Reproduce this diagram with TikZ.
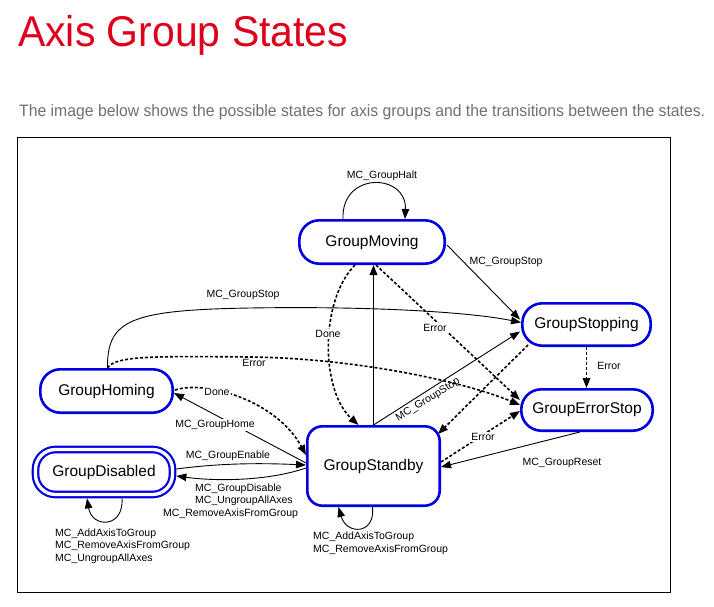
\documentclass[tikz,border=0pt]{standalone}
\usepackage{fontspec}
\setmainfont{Liberation Sans}
\usepackage{graphicx}
\usetikzlibrary{arrows.meta,calc}
\definecolor{titlered}{RGB}{222,0,26}
\definecolor{subgray}{RGB}{112,112,112}
\definecolor{stateblue}{RGB}{0,0,225}
\begin{document}
\begin{tikzpicture}[x=1pt,y=-1pt,
  state/.style={draw=stateblue,line width=2.6pt,rounded corners=20pt,inner sep=0pt,
    font=\fontsize{15.5}{18}\selectfont,fill=white},
  lbl/.style={font=\fontsize{10.5}{12.5}\selectfont,inner sep=1pt},
  wlbl/.style={lbl,fill=white},
  tr/.style={line width=0.9pt,-{Triangle[length=10pt,width=7.5pt]}},
  dtr/.style={line width=1.6pt,dash pattern=on 3pt off 2pt,-{Triangle[length=10pt,width=7.5pt]}},
  ttr/.style={line width=1.8pt,-{Triangle[length=10pt,width=7.5pt]}}
]
\useasboundingbox (0,0) rectangle (714,607);
\fill[white] (0,0) rectangle (714,607);

% heading
\node[anchor=base west,inner sep=0pt,text=titlered] (title) at (18,47)
  {\resizebox{330pt}{\height}{\fontsize{43}{46}\selectfont Axis Group States}};
\node[anchor=base west,inner sep=0pt,text=subgray] (sub) at (19,117)
  {\resizebox{686pt}{\height}{\fontsize{16.5}{19}\selectfont The image below shows the possible states for axis groups and the transitions between the states.}};

% frame
\draw[line width=1pt] (17,137) rectangle (670,592);

% states
\node[state,minimum width=145.4pt,minimum height=43.4pt] (moving) at (372,242) {GroupMoving};
\node[state,minimum width=128.4pt,minimum height=42.4pt] (stopping) at (586.5,324.5) {GroupStopping};
\node[state,minimum width=131.4pt,minimum height=41.4pt] (errstop) at (587,410) {GroupErrorStop};
\node[state,minimum width=132.4pt,minimum height=43.4pt] (homing) at (106.5,391) {GroupHoming};
\node[state,rounded corners=15pt,minimum width=132.4pt,minimum height=79.4pt] (standby) at (373.5,466) {GroupStandby};
\node[state,line width=2.2pt,double=white,double distance=3.3pt,outer sep=3.85pt,
  minimum width=137pt,minimum height=45pt] (disabled) at (104,472) {GroupDisabled};

% transitions
\draw[tr] ($(moving.north)+(-29,0)$) .. controls +(-2,-48) and +(2,-46) .. ($(moving.north)+(33,0)$);
\node[lbl] (lhalt) at (382,176) {MC\_GroupHalt};

\draw[tr] ($(moving.east)+(1,3)$) -- ($(stopping.west)+(-1,-5)$);
\node[lbl] (lstop1) at (506,262) {MC\_GroupStop};

\draw[tr] ($(homing.north)+(1,0)$) .. controls (107,320) and (130,310) .. (250,308)
  .. controls (370,306) and (470,312) .. ($(stopping.west)+(0,-2)$);
\node[lbl] (lstop2) at (243,295) {MC\_GroupStop};

\draw[dtr] ($(homing.north)+(1,0)$) .. controls (115,356) and (150,356) .. (250,357)
  .. controls (350,358) and (460,380) .. ($(errstop.west)+(0,-5)$);
\node[lbl] (lerr1) at (254,363) {Error};

\draw[dtr] ($(moving.south)+(-17,0)$) .. controls (320,300) and (320,390) .. ($(standby.north)+(-15,0)$);
\node[wlbl] (ldone1) at (328,334) {Done};

\draw[ttr] (standby.north) -- (standby.north |- moving.south);

\draw[dtr] ($(moving.south)+(4,0)$) -- ($(errstop.west)+(0,-10)$);
\node[wlbl] (lerr2) at (435,328) {Error};

\draw[tr] (standby.north) -- ($(stopping.west)+(-1,7)$);
\node[lbl,rotate=32] (lstop3) at (428,400) {MC\_GroupStop};

\draw[dtr] ($(stopping.south west)+(7,-2)$) -- ($(standby.north east)+(-3,9)$);

\draw[dtr] (stopping.south) -- (stopping.south |- errstop.north);
\node[lbl] (lerr3) at (609,366) {Error};

\draw[dtr] ($(standby.east)+(0,-4)$) -- ($(errstop.west)+(0,1)$);
\node[wlbl] (lerr4) at (483,437) {Error};

\draw[tr] ($(errstop.south)+(-7,0)$) -- ($(standby.east)+(0,1)$);
\node[lbl] (lreset) at (562,463) {MC\_GroupReset};

\draw[tr] ($(standby.west)+(0,-3)$) -- ($(homing.east)+(0,2)$);
\node[wlbl] (lhome) at (215,425) {MC\_GroupHome};

\draw[dtr] ($(homing.east)+(1,-1)$) .. controls +(30,-10) and +(-30,-55) .. ($(standby.west)+(0,-11)$);
\node[wlbl] (ldone2) at (217,392) {Done};

\draw[tr] ($(disabled.east)+(0,-3)$) .. controls +(45,-6) and +(-45,-2) .. ($(standby.west)+(0,-1)$);
\node[lbl] (lenable) at (228,456) {MC\_GroupEnable};

\draw[tr] ($(standby.west)+(0,2)$) .. controls +(-35,12) and +(45,6) .. ($(disabled.east)+(0,4)$);
\node[lbl,anchor=west,align=left] (ldisable) at (162,501)
  {\hspace*{32pt}MC\_GroupDisable\\\hspace*{32pt}MC\_UngroupAllAxes\\MC\_RemoveAxisFromGroup};

\draw[tr] ($(disabled.south)+(18,0)$) .. controls +(2,30) and +(5,30) .. ($(disabled.south)+(-17,0)$);
\node[lbl,anchor=west,align=left] (ldisloop) at (54,546)
  {MC\_AddAxisToGroup\\MC\_RemoveAxisFromGroup\\MC\_UngroupAllAxes};

\draw[tr] ($(standby.south)+(-1,0)$) .. controls +(3,28) and +(8,28) .. ($(standby.south)+(-35,0)$);
\node[lbl,anchor=west,align=left] (lsbloop) at (312,543.5)
  {MC\_AddAxisToGroup\\MC\_RemoveAxisFromGroup};
\end{tikzpicture}
\end{document}
